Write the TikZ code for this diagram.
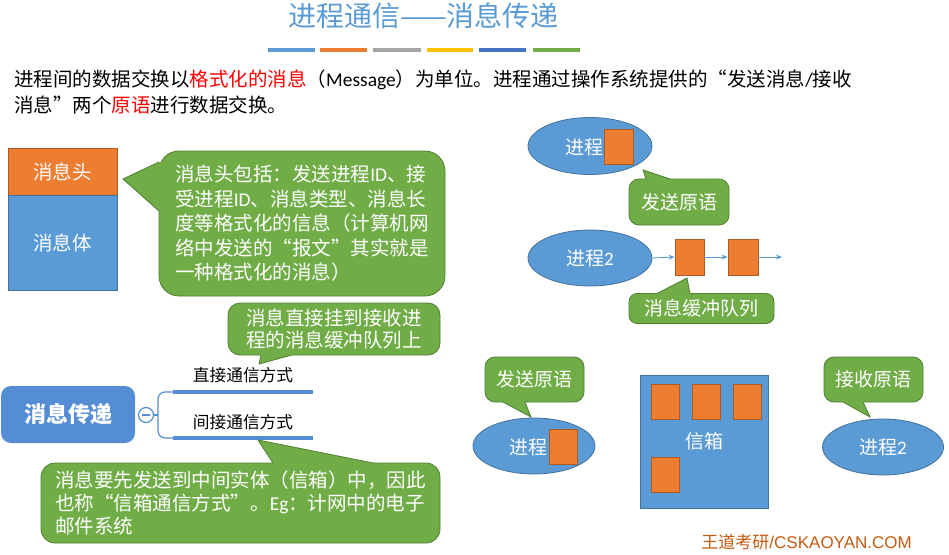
\documentclass[tikz,border=0pt]{standalone}
\usepackage{fontspec}
\setmainfont{Noto Sans CJK SC}
\newfontfamily\lat{Carlito}
\newfontfamily\arialf{Liberation Sans}
\usetikzlibrary{arrows.meta,shapes.geometric}
\definecolor{pblue}{RGB}{91,155,213}
\definecolor{pblueD}{RGB}{65,113,156}
\definecolor{porg}{RGB}{237,125,49}
\definecolor{porgD}{RGB}{174,90,33}
\definecolor{pgreen}{RGB}{112,173,71}
\definecolor{pgreenD}{RGB}{80,126,50}
\definecolor{mmblue}{RGB}{84,141,212}
\definecolor{wmred}{RGB}{197,90,17}
\definecolor{barGray}{RGB}{165,165,165}
\definecolor{barYel}{RGB}{255,192,0}
\definecolor{barDB}{RGB}{68,114,196}
\definecolor{hred}{RGB}{255,0,0}
\newcommand\fsz[2]{\fontsize{#1}{#2}\selectfont}
\begin{document}
\begin{tikzpicture}[x=1pt,y=-1pt,
  bluebox/.style={draw=pblueD, fill=pblue, line width=0.8pt, inner sep=0pt, text=white, font=\fsz{19.5}{24}},
  orgbox/.style={draw=porgD, fill=porg, line width=0.8pt, inner sep=0pt},
  gcall/.style={draw=pgreenD, fill=pgreen, line width=0.8pt, rounded corners=#1, text=white, inner sep=0pt, align=left},
  gcall/.default=12pt,
  proc/.style={ellipse, draw=pblueD, fill=pblue, line width=0.8pt, inner sep=0pt, text=white},
  ptrfill/.style={fill=pgreen},
  ptredge/.style={draw=pgreenD, line width=0.8pt},
  colbar/.style={line width=4.5pt},
  plain/.style={inner sep=0pt},
  arr/.style={draw=pblue, line width=0.9pt, -{Stealth[length=6pt,width=5pt]}}
]
\useasboundingbox (0,0) rectangle (949,554);

% title
\node[plain, text=pblue, font=\fsz{28}{30}] (title) at (423.5,16) {进程通信——消息传递};
\draw[colbar, pblue] (268,50) -- (315,50);
\draw[colbar, porg] (320,50) -- (367,50);
\draw[colbar, barGray] (373,50) -- (421,50);
\draw[colbar, barYel] (427,50) -- (473,50);
\draw[colbar, barDB] (479,50) -- (526,50);
\draw[colbar, pgreen] (533,50) -- (580,50);

% intro text
\node[plain, anchor=west, font=\fsz{19.5}{24}] (intro1) at (14,80) {进程间的数据交换以{\color{hred}格式化的消息}（{\lat Message}）为单位。进程通过操作系统提供的“发送消息{\lat /}接收};
\node[plain, anchor=west, font=\fsz{19.5}{24}] (intro2) at (14,105) {消息”两个{\color{hred}原语}进行数据交换。};

% message structure
\node[orgbox, text=white, font=\fsz{19.5}{24}, minimum width=109pt, minimum height=47pt] (head) at (62.5,171.5) {消息头};
\node[bluebox, minimum width=109pt, minimum height=95pt] (body) at (62.5,242.5) {消息体};

% callout 1
\node[gcall=20pt, minimum width=286pt, minimum height=145pt, font=\fsz{19.5}{24.5}] (c1) at (302,223.5)
 {消息头包括：发送进程{\lat ID}、接\\受进程{\lat ID}、消息类型、消息长\\度等格式化的信息（计算机网\\络中发送的“报文”其实就是\\一种格式化的消息）};
\coordinate (c1tip) at (123,179);
\fill[ptrfill] (c1tip) -- (159,162) -- (161.5,162) -- (161.5,211) -- (159,211) -- cycle;
\draw[ptredge] (159,162) -- (c1tip) -- (159,211);

% mind map
\node[fill=mmblue, rounded corners=10pt, minimum width=134pt, minimum height=57pt, inner sep=0pt, text=white, font=\fsz{22}{24}\bfseries] (mm) at (68,414.5) {消息传递};
\node[circle, draw=mmblue, fill=white, line width=1.2pt, minimum size=15pt, inner sep=0pt] (cc) at (146,415) {};
\draw[mmblue, line width=1.2pt] (142,415) -- (150,415);
\coordinate (l1a) at (173,392); \coordinate (l1b) at (313,392);
\coordinate (l2a) at (173,438); \coordinate (l2b) at (313,438);
\draw[mmblue, line width=1.2pt] (cc.east) -- (158,415);
\draw[mmblue, line width=1.2pt, rounded corners=7pt] (l1a) -- (158,392) -- (158,438) -- (l2a);
\draw[mmblue, line width=3.5pt] (l1a) -- (l1b);
\draw[mmblue, line width=3.5pt] (l2a) -- (l2b);
\node[plain, font=\fsz{16.7}{18}] (d1) at (243,375) {直接通信方式};
\node[plain, font=\fsz{16.7}{18}] (d2) at (243,422) {间接通信方式};

% callout 2
\node[gcall=12pt, minimum width=212pt, minimum height=52pt, font=\fsz{19.5}{22.5}] (c2) at (334,329)
 {消息直接挂到接收进\\程的消息缓冲队列上};
\coordinate (c2tip) at (259,364);
\fill[ptrfill] (c2tip) -- (261,355) -- (261,352.5) -- (292,352.5) -- (292,355) -- cycle;
\draw[ptredge] (261,355) -- (c2tip) -- (292,355);

% callout 3
\node[gcall=14pt, minimum width=399pt, minimum height=80pt, font=\fsz{19.5}{22.7}] (c3) at (240.5,503)
 {消息要先发送到中间实体（信箱）中，因此\\也称“信箱通信方式”。{\lat Eg}：计网中的电子\\邮件系统};
\coordinate (c3tip) at (258,440);
\fill[ptrfill] (c3tip) -- (273,463) -- (273,465.5) -- (373,465.5) -- (373,463) -- cycle;
\draw[ptredge] (273,463) -- (c3tip) -- (373,463);

% right top: direct communication
\node[proc, minimum width=124pt, minimum height=57pt] (p1) at (590,146) {};
\node[plain, text=white, font=\fsz{19}{22}] (p1t) at (584,147) {进程};
\node[orgbox, minimum width=29pt, minimum height=35pt] (m0) at (618.5,146.5) {};

\node[gcall=10pt, minimum width=100pt, minimum height=46pt, font=\fsz{19}{22}] (s1) at (679,202) {发送原语};
\coordinate (s1tip) at (643,170);
\fill[ptrfill] (s1tip) -- (646,179) -- (646,181.5) -- (670,181.5) -- (670,179) -- cycle;
\draw[ptredge] (646,179) -- (s1tip) -- (670,179);

\node[proc, minimum width=124pt, minimum height=56pt, font=\fsz{19}{22}] (p2) at (590,258) {进程{\lat 2}};
\node[orgbox, minimum width=29pt, minimum height=36pt] (q1) at (689.5,257) {};
\node[orgbox, minimum width=30pt, minimum height=36pt] (q2) at (743,257) {};
\coordinate (qend) at (782,257);
\draw[arr] (p2.east) -- (q1.west);
\draw[arr] (q1.east) -- (q2.west);
\draw[arr] (q2.east) -- (qend);

\node[gcall=8pt, minimum width=145pt, minimum height=30pt, font=\fsz{19}{22}] (s2) at (701.5,308.5) {消息缓冲队列};
\coordinate (s2tip) at (687,278);
\fill[ptrfill] (s2tip) -- (657,293.5) -- (657,296) -- (690,296) -- (690,293.5) -- cycle;
\draw[ptredge] (657,293.5) -- (s2tip) -- (690,293.5);

% right bottom: indirect communication
\node[gcall=10pt, minimum width=99pt, minimum height=45pt, font=\fsz{19}{22}] (s3) at (534.5,379.5) {发送原语};
\coordinate (s3tip) at (531,417);
\fill[ptrfill] (s3tip) -- (503,402) -- (503,399.5) -- (525,399.5) -- (525,402) -- cycle;
\draw[ptredge] (503,402) -- (s3tip) -- (525,402);

\node[proc, minimum width=122pt, minimum height=56pt] (p3) at (534,446) {};
\node[plain, text=white, font=\fsz{19}{22}] (p3t) at (528,447) {进程};
\node[orgbox, minimum width=28pt, minimum height=35pt] (m1) at (563,446.5) {};

\node[bluebox, minimum width=128pt, minimum height=133pt, font=\fsz{19}{22}] (mb) at (704,441.5) {信箱};
\node[orgbox, minimum width=28pt, minimum height=35pt] (b1) at (665,401.5) {};
\node[orgbox, minimum width=28pt, minimum height=35pt] (b2) at (706,401.5) {};
\node[orgbox, minimum width=28pt, minimum height=35pt] (b3) at (747,401.5) {};
\node[orgbox, minimum width=28pt, minimum height=35pt] (b4) at (665,474.5) {};

\node[gcall=10pt, minimum width=99pt, minimum height=45pt, font=\fsz{19}{22}] (s4) at (873.5,379.5) {接收原语};
\coordinate (s4tip) at (870,417);
\fill[ptrfill] (s4tip) -- (843,402) -- (843,399.5) -- (863,399.5) -- (863,402) -- cycle;
\draw[ptredge] (843,402) -- (s4tip) -- (863,402);

\node[proc, minimum width=121pt, minimum height=56pt, font=\fsz{19}{22}] (p4) at (883,447) {进程{\lat 2}};

% watermark
\node[plain, anchor=east, text=wmred, font=\fsz{17}{20}] (wm) at (912,542) {王道考研{\arialf /CSKAOYAN.COM}};
\end{tikzpicture}
\end{document}
